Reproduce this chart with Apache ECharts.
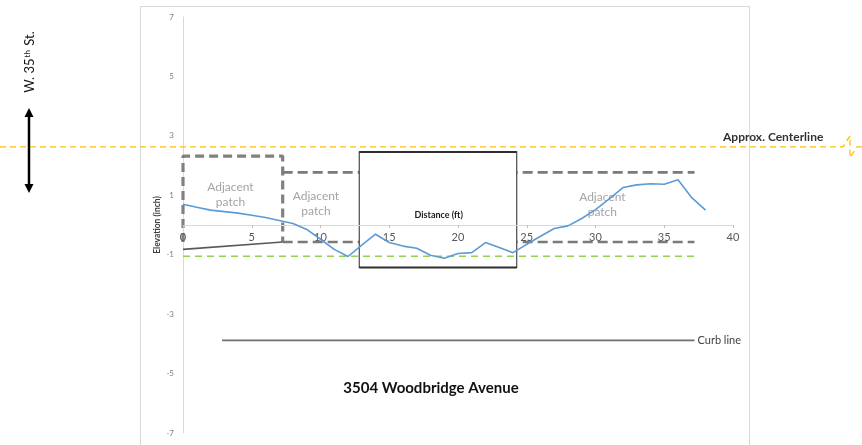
<!DOCTYPE html>
<html>
<head>
<meta charset="utf-8">
<script src="https://cdn.jsdelivr.net/npm/echarts@6/dist/echarts.min.js"></script>
<style>
  html, body { margin: 0; padding: 0; background: #ffffff; }
  #chart { width: 862px; height: 445px; }
</style>
</head>
<body>
<div id="chart"></div>
<script>
// Surface profile across the road, elevation in inches against distance in feet
const distanceFt = [0, 1, 2, 3, 4, 5, 6, 7, 8, 9, 10, 11, 12, 13, 14, 15, 16, 17, 18, 19,
  20, 21, 22, 23, 24, 25, 26, 27, 28, 29, 30, 31, 32, 33, 34, 35, 36, 37, 38];
const elevationIn = [0.70, 0.60, 0.50, 0.45, 0.40, 0.33, 0.25, 0.15, 0.05, -0.15,
  -0.48, -0.82, -1.06, -0.68, -0.31, -0.59, -0.71, -0.78, -1.02, -1.12,
  -0.96, -0.93, -0.59, -0.76, -0.93, -0.65, -0.38, -0.12, -0.03, 0.22,
  0.52, 0.88, 1.26, 1.35, 1.39, 1.37, 1.52, 0.92, 0.50];

// Patch outlines (distance ft, elevation in)
const leftPatchOutline = [[0, -0.57], [0, 2.32], [7.25, 2.32], [7.25, -0.57]];
const patchTopEdge = [[7.25, 1.77], [37.2, 1.77]];
const patchBottomEdge = [[7.25, -0.57], [37.2, -0.57]];
const gutterLevel = [[0, -1.05], [37.2, -1.05]];
const pavementEdge = [[0, -0.82], [7.25, -0.57]];
const curbLine = [[2.84, -3.88], [37.2, -3.88]];
const insetBox = [[12.82, 2.46], [24.27, -1.43]];
const patchLabels = [[3.45, 1.02], [9.67, 0.71], [30.5, 0.68]];
const centerlineElevation = 2.63;

const xTickStep = 5;
const yTickStep = 2;

const FONT = 'Lato, "Open Sans", sans-serif';
const chart = echarts.init(document.getElementById('chart'), null, { renderer: 'canvas' });

const xy = (pts) => pts.map(p => [p[0], p[1]]);

const baseOption = {
  animation: false,
  backgroundColor: '#ffffff',
  textStyle: { fontFamily: FONT },
  title: {
    text: '3504 Woodbridge Avenue',
    left: 'center',
    top: 376,
    textStyle: { fontFamily: FONT, fontSize: 15, fontWeight: 'bold', color: '#111111' }
  },
  grid: { left: 183, right: 129, top: 17, bottom: 12, outerBoundsMode: 'none', containLabel: false },
  xAxis: {
    type: 'value',
    min: 0, max: 40, interval: xTickStep,
    z: 4,
    axisLine: { onZero: false, lineStyle: { color: '#d9d9d9', width: 1 } },
    axisTick: { show: true, length: 3, lineStyle: { color: '#bfbfbf' } },
    axisLabel: { fontSize: 11, color: '#595959', margin: 7, fontFamily: FONT },
    splitLine: { show: false }
  },
  yAxis: {
    type: 'value',
    min: -7, max: 7, interval: yTickStep,
    name: 'Elevation (inch)',
    nameLocation: 'middle',
    nameGap: 21,
    nameMoveOverlap: false,
    nameRotate: 90,
    nameTextStyle: { fontSize: 8.5, fontWeight: 'bold', color: '#404040', fontFamily: FONT },
    axisLine: { show: true, onZero: false, lineStyle: { color: '#d9d9d9', width: 1 } },
    axisTick: { show: false },
    axisLabel: { fontSize: 8, color: '#808080', margin: 9, fontFamily: FONT },
    splitLine: { show: false }
  },
  series: [
    {
      name: 'Left patch', type: 'line', z: 2, silent: true, symbol: 'none',
      data: xy(leftPatchOutline),
      lineStyle: { color: '#808080', width: 3.2, type: [9, 5] }
    },
    {
      name: 'Patch top', type: 'line', z: 2, silent: true, symbol: 'none',
      data: xy(patchTopEdge),
      lineStyle: { color: '#7a7a7a', width: 2.6, type: [10, 5] }
    },
    {
      name: 'Patch bottom', type: 'line', z: 2, silent: true, symbol: 'none',
      data: xy(patchBottomEdge),
      lineStyle: { color: '#7a7a7a', width: 2.6, type: [10, 5] }
    },
    {
      name: 'Pavement edge', type: 'line', z: 2, silent: true, symbol: 'none',
      data: xy(pavementEdge),
      lineStyle: { color: '#595959', width: 1.6 }
    },
    {
      name: 'Inset', type: 'custom', z: 3, silent: true,
      data: [insetBox[0].concat(insetBox[1])],
      renderItem: function (params, api) {
        const a = api.coord([api.value(0), api.value(1)]);
        const b = api.coord([api.value(2), api.value(3)]);
        return {
          type: 'group',
          children: [
            {
              type: 'rect',
              shape: { x: a[0], y: a[1], width: b[0] - a[0], height: b[1] - a[1] },
              style: { fill: '#ffffff', stroke: '#4a4a4a', lineWidth: 1.2 }
            },
            {
              type: 'line',
              shape: { x1: a[0], y1: a[1], x2: b[0], y2: a[1] },
              style: { stroke: '#2e2e2e', lineWidth: 2 }
            },
            {
              type: 'line',
              shape: { x1: a[0], y1: b[1], x2: b[0], y2: b[1] },
              style: { stroke: '#2e2e2e', lineWidth: 2 }
            }
          ]
        };
      }
    },
    {
      name: 'Gutter', type: 'line', z: 4, silent: true, symbol: 'none',
      data: xy(gutterLevel),
      lineStyle: { color: '#92d050', width: 1.4, type: [7, 5] }
    },
    {
      name: 'Curb line', type: 'line', z: 4, silent: true, symbol: 'none',
      data: xy(curbLine),
      lineStyle: { color: '#6f6f6f', width: 1.8 },
      endLabel: {
        show: true, distance: 3, formatter: 'Curb line',
        fontSize: 11, color: '#404040', fontFamily: FONT
      }
    },
    {
      name: 'Patch labels', type: 'scatter', z: 5, silent: true,
      symbolSize: 0,
      data: xy(patchLabels),
      label: {
        show: true, position: 'inside', formatter: 'Adjacent\npatch',
        fontSize: 12, lineHeight: 15, color: '#8c8c8c', fontFamily: FONT
      }
    },
    {
      name: 'Elevation', type: 'line', z: 6, symbol: 'none', smooth: false,
      data: distanceFt.map((d, i) => [d, elevationIn[i]]),
      lineStyle: { color: '#5b9bd5', width: 1.6 }
    }
  ]
};
chart.setOption(baseOption);

// Move the distance axis up so it crosses the elevation axis at zero
const gridRect = chart.getModel().getComponent('grid', 0).coordinateSystem.getRect();
const zeroY = chart.convertToPixel({ gridIndex: 0 }, [0, 0])[1];
chart.setOption({ xAxis: { offset: -(gridRect.y + gridRect.height - zeroY) } });

// Annotations outside the plot: frame, centerline, street marker, axis title
const yCenter = chart.convertToPixel({ gridIndex: 0 }, [0, centerlineElevation])[1];
const xTitlePos = chart.convertToPixel({ gridIndex: 0 }, [18.6, 0.35]);
const W = chart.getWidth();
const zigX = W - 19;

chart.setOption({
  graphic: [
    {
      type: 'rect', z: 0, silent: true,
      shape: { x: 140.5, y: 6.5, width: 609, height: 460 },
      style: { fill: 'none', stroke: '#d9d9d9', lineWidth: 1 }
    },
    {
      type: 'polyline', z: 10, silent: true,
      shape: { points: [[0, yCenter], [zigX, yCenter], [zigX + 7, yCenter - 11], [zigX + 7, yCenter + 11], [zigX + 14, yCenter], [W, yCenter]] },
      style: { stroke: '#ffc000', lineWidth: 1.3, lineDash: [6, 4], fill: 'none' }
    },
    {
      type: 'text', z: 10, silent: true,
      style: {
        x: 723, y: yCenter - 10, text: 'Approx. Centerline',
        verticalAlign: 'middle',
        font: 'bold 12px ' + FONT, fill: '#333333'
      }
    },
    {
      type: 'text', z: 10, silent: true,
      style: {
        x: xTitlePos[0], y: xTitlePos[1], text: 'Distance (ft)',
        align: 'center', verticalAlign: 'middle',
        font: 'bold 9px ' + FONT, fill: '#1a1a1a'
      }
    },
    {
      type: 'text', z: 10, silent: true,
      x: 30, y: 62, rotation: Math.PI / 2,
      style: {
        text: '{a|W. 35}{s|th}{a| St.}',
        align: 'center', verticalAlign: 'middle',
        rich: {
          a: { fontSize: 13, fontFamily: FONT, fill: '#111111', color: '#111111' },
          s: { fontSize: 8, fontFamily: FONT, fill: '#111111', color: '#111111', verticalAlign: 'top', padding: [0, 1, 6, 1] }
        }
      }
    },
    {
      type: 'group', z: 10, silent: true,
      children: [
        { type: 'line', shape: { x1: 29, y1: 114, x2: 29, y2: 187 }, style: { stroke: '#000000', lineWidth: 2.5 } },
        { type: 'polygon', shape: { points: [[29, 108], [24.5, 117], [33.5, 117]] }, style: { fill: '#000000' } },
        { type: 'polygon', shape: { points: [[29, 193], [24.5, 184], [33.5, 184]] }, style: { fill: '#000000' } }
      ]
    }
  ]
});
</script>
</body>
</html>
